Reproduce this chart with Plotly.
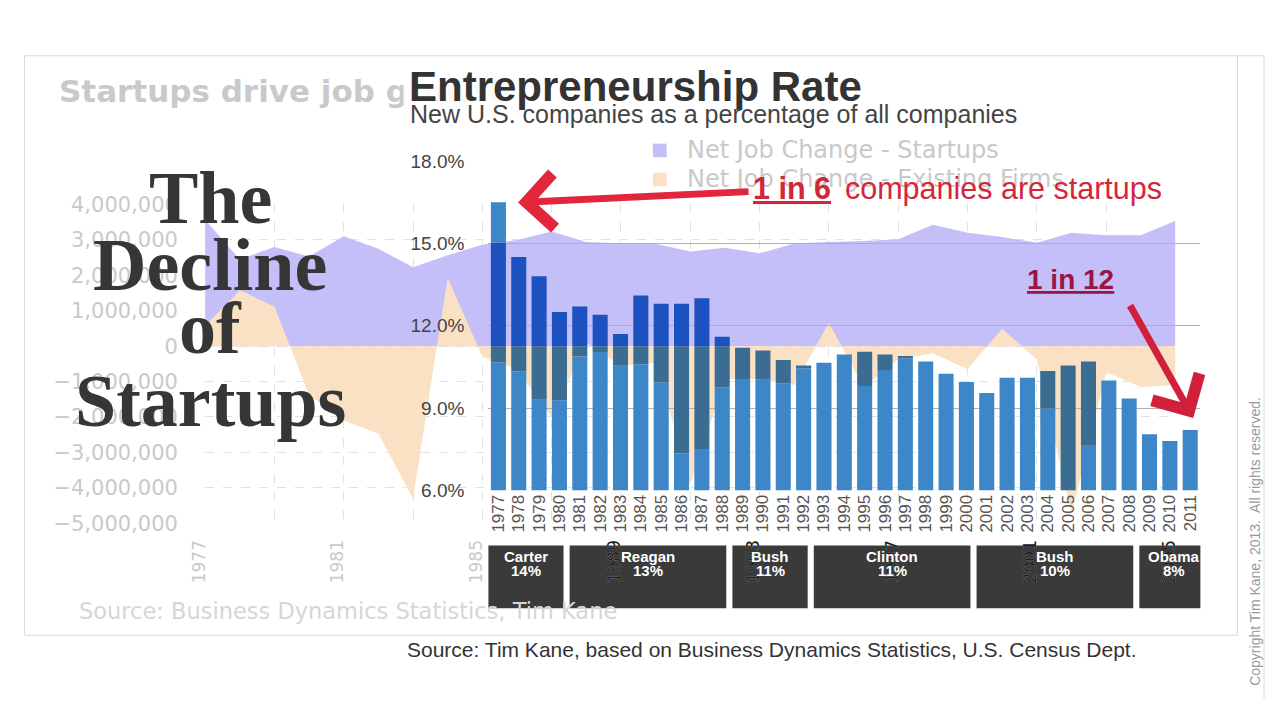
import numpy as np
import plotly.graph_objects as go

# ---------------- data ----------------
years = list(range(1977, 2012))
startup_rate = [16.5, 14.5, 13.8, 12.5, 12.7, 12.4, 11.7, 13.1, 12.8, 12.8,
                13.0, 11.6, 11.2, 11.1, 10.75, 10.55, 10.65, 10.95, 11.05, 10.95,
                10.9, 10.7, 10.25, 9.95, 9.55, 10.1, 10.1, 10.35, 10.55, 10.7,
                10.0, 9.35, 8.05, 7.8, 8.2]
rate_ticks = [6, 9, 12, 15, 18]

bg_years = list(range(1977, 2006))
net_jobs_startups = [3.57e6, 2.45e6, 2.8e6, 2.53e6, 3.1e6, 2.75e6, 2.23e6, 2.57e6, 2.86e6, 3.0e6,
                     3.24e6, 2.94e6, 2.9e6, 2.89e6, 2.67e6, 2.78e6, 2.62e6, 2.9e6, 2.94e6, 2.97e6,
                     3.02e6, 3.43e6, 3.2e6, 3.08e6, 2.92e6, 3.2e6, 3.13e6, 3.13e6, 3.54e6]
net_jobs_existing = [0.57e6, 1.58e6, 1.12e6, -1.38e6, -2.1e6, -2.47e6, -4.3e6, 1.93e6, -0.3e6, -0.65e6,
                     -2.0e6, 0.1e6, -0.56e6, -0.47e6, -3.9e6, -0.93e6, -0.93e6, -1.1e6, 0.66e6, -1.15e6,
                     -0.38e6, -0.2e6, -0.65e6, 0.49e6, -0.38e6, -4.75e6, -0.74e6, -1.15e6, -1.1e6]
bg_label_years = [1977, 1981, 1985]
bg_label_years_boxed = [1989, 1993, 1997, 2001, 2005]
jobs_ticks = [-5e6, -4e6, -3e6, -2e6, -1e6, 0, 1e6, 2e6, 3e6, 4e6]

presidents = ["Carter", "Reagan", "Bush", "Clinton", "Bush", "Obama"]
pres_avg = ["14%", "13%", "11%", "11%", "10%", "8%"]
pres_start = [1977, 1981, 1989, 1993, 2001, 2009]
pres_end = [1980, 1988, 1992, 2000, 2008, 2011]

# ---------------- layout geometry (screen pixels) ----------------
OFF = 8                      # page body margin
FW, FH = 1280 - 2 * OFF, 720 - 2 * OFF
def px(x):
    return (x - OFF) / FW
def py(y):
    return 1 - (y - OFF) / FH

BG_L, BG_R, BG_B, BG_T = 192, 1178, 529, 199          # faded job-change chart
BG_XR, BG_YR = [1977, 2005], [-5e6, 4e6]
BAR_L, BAR_R, BAR_B, BAR_T = 479.7, 1203.3, 495, 154   # entrepreneurship chart
BAR_XR, BAR_YR = [1976.5, 2011.5], [6, 18]

PURPLE = "#c4bff9"
ORANGE = "#fbe1c4"
BAR = "#3d86c7"
BAR_ON_PURPLE = "#1c52c0"   # bar seen through the purple wash
BAR_ON_ORANGE = "#3b6d92"   # bar seen through the orange wash
GHOST = "#c9c9c9"

# where the translucent job-change areas fall on each bar (picture overlay)
def bar_px(yr):
    return BAR_L + (yr - BAR_XR[0]) / (BAR_XR[1] - BAR_XR[0]) * (BAR_R - BAR_L)
def bg_year(xpx):
    return BG_XR[0] + (xpx - BG_L) / (BG_R - BG_L) * (BG_XR[1] - BG_XR[0])
def jobs_px(v):
    return BG_B - (v - BG_YR[0]) / (BG_YR[1] - BG_YR[0]) * (BG_B - BG_T)
def px_rate(p):
    return BAR_YR[0] + (BAR_B - p) / (BAR_B - BAR_T) * (BAR_YR[1] - BAR_YR[0])

seg = {k: ([], []) for k in ("lo", "orange", "purple", "hi")}
for yr, top in zip(years, startup_rate):
    clip = lambda a: min(max(a, BAR_YR[0]), top)
    g = bg_year(bar_px(yr))
    if g > BG_XR[1]:
        parts = {"lo": (BAR_YR[0], top), "orange": (top, top), "purple": (top, top), "hi": (top, top)}
    else:
        s = np.interp(g, bg_years, net_jobs_startups)
        e = np.interp(g, bg_years, net_jobs_existing)
        z_r, s_r, e_r = clip(px_rate(jobs_px(0))), clip(px_rate(jobs_px(s))), clip(px_rate(jobs_px(e)))
        if e < 0:
            parts = {"lo": (BAR_YR[0], e_r), "orange": (e_r, z_r), "purple": (z_r, s_r), "hi": (s_r, top)}
        else:
            parts = {"lo": (BAR_YR[0], z_r), "orange": (z_r, e_r), "purple": (e_r, s_r), "hi": (s_r, top)}
    for k, (a, b) in parts.items():
        seg[k][0].append(a)
        seg[k][1].append(max(b - a, 0))

fig = go.Figure()

# faded background chart : net job change
fig.add_trace(go.Scatter(x=bg_years, y=net_jobs_startups, fill="tozeroy", mode="none",
                         fillcolor=PURPLE, xaxis="x", yaxis="y", hoverinfo="skip",
                         name="Net Job Change - Startups"))
fig.add_trace(go.Scatter(x=bg_years, y=net_jobs_existing, fill="tozeroy", mode="none",
                         fillcolor=ORANGE, xaxis="x", yaxis="y", hoverinfo="skip",
                         name="Net Job Change - Existing Firms"))
fig.add_trace(go.Scatter(x=[], y=[], xaxis="x3", yaxis="y", hoverinfo="skip", mode="none"))

# entrepreneurship-rate bars (split where the washes overlay them)
for k, col in (("lo", BAR), ("orange", BAR_ON_ORANGE), ("purple", BAR_ON_PURPLE), ("hi", BAR)):
    fig.add_trace(go.Bar(x=years, y=seg[k][1], base=seg[k][0], xaxis="x2", yaxis="y2",
                         width=0.74, marker=dict(color=col, line=dict(width=0)),
                         hoverinfo="skip", name="Entrepreneurship Rate"))

annotations = []

def note(text, x, y, size, color, family="Liberation Sans", xanchor="left", yanchor="middle",
         bold=False, angle=0, bg=None, under=False, pad=1):
    f = dict(size=size, color=color, family=family)
    if bold:
        f["weight"] = "bold"
    if under:
        f["lineposition"] = "under"
    a = dict(text=text, x=px(x), y=py(y), xref="paper", yref="paper", showarrow=False,
             xanchor=xanchor, yanchor=yanchor, font=f, textangle=angle, borderpad=pad)
    if bg:
        a["bgcolor"] = bg
    annotations.append(a)

# ghost background chart title, legend and source
note("Startups drive job growth", 42, 81, 31, GHOST, family="DejaVu Sans", bold=True)
note("Net Job Change - Startups", 680, 143, 24, GHOST, family="DejaVu Sans")
note("Net Job Change - Existing Firms", 680, 173, 24, GHOST, family="DejaVu Sans")
note("Source: Business Dynamics Statistics, Tim Kane", 62, 620, 22.5, "#d6d6d6", family="DejaVu Sans")

# main titles
note("Entrepreneurship Rate", 393, 77, 42, "#333333", bold=True, bg="rgba(255,255,255,0.88)", pad=5)
note("New U.S. companies as a percentage of all companies", 398, 105, 25, "#444444")

# red callouts
note("1 in 6", 747, 182, 30.5, "#d3263a", bold=True, under=True)
note("companies are startups", 840, 182, 30.5, "#d3263a")
note("1 in 12", 1025, 277, 28, "#9c1446", bold=True, under=True)

annotations.append(dict(x=px(510), y=py(197), xref="paper", yref="paper", text="",
                        showarrow=True, ax=232, ay=-11, arrowhead=4, arrowsize=1.5,
                        arrowwidth=7, arrowcolor="#e2263c"))
annotations.append(dict(x=px(1196), y=py(420), xref="paper", yref="paper", text="",
                        showarrow=True, ax=-64, ay=-114, arrowhead=4, arrowsize=1.5,
                        arrowwidth=7, arrowcolor="#d21f3c"))

# big serif title
for word, yc in zip(["The", "Decline", "of", "Startups"], [192, 262, 327, 402]):
    note(word, 197, yc, 74, "#363636", family="Liberation Serif", xanchor="center", bold=True)

# source and copyright
note("Source: Tim Kane, based on Business Dynamics Statistics, U.S. Census Dept.", 395, 660, 21, "#333333")
note("Copyright Tim Kane, 2013.  All rights reserved.", 1258, 548, 14, "#9a9a9a",
     xanchor="center", angle=-90)

# president boxes
shapes = []
n_pres = len(presidents)
for i, (name, avg, s, e) in enumerate(zip(presidents, pres_avg, pres_start, pres_end)):
    x0 = s - 0.5
    x1 = e + 0.2 if i < n_pres - 1 else BAR_XR[1] + 0.4
    shapes.append(dict(type="rect", xref="x2", yref="paper", x0=x0, x1=x1,
                       y0=py(617), y1=py(552), fillcolor="#3a3a3a", line=dict(width=0),
                       layer="below"))
    for txt, yy in ((name, 563), (avg, 578)):
        annotations.append(dict(text=txt, x=(x0 + x1) / 2, y=py(yy), xref="x2", yref="paper",
                                showarrow=False, xanchor="center", yanchor="middle",
                                font=dict(size=15, color="white", family="Liberation Sans",
                                          weight="bold")))

# legend squares of the faded chart
shapes.append(dict(type="rect", xref="paper", yref="paper", x0=px(647), x1=px(661),
                   y0=py(150), y1=py(136), fillcolor=PURPLE, line=dict(width=0), layer="above"))
shapes.append(dict(type="rect", xref="paper", yref="paper", x0=px(647), x1=px(661),
                   y0=py(180), y1=py(166), fillcolor=ORANGE, line=dict(width=0), layer="above"))

# slide frame
shapes.append(dict(type="rect", xref="paper", yref="paper", x0=px(8.5), x1=px(1241),
                   y0=py(645), y1=py(45), line=dict(color="#dadada", width=1), layer="below"))
shapes.append(dict(type="line", xref="paper", yref="paper", x0=px(1241), x1=px(1268),
                   y0=py(45), y1=py(45), line=dict(color="#dadada", width=1), layer="below"))
shapes.append(dict(type="line", xref="paper", yref="paper", x0=px(1268), x1=px(1268),
                   y0=py(45), y1=py(711), line=dict(color="#dadada", width=1), layer="below"))

fig.update_layout(
    width=FW, height=FH, margin=dict(l=0, r=0, t=0, b=0),
    paper_bgcolor="white", plot_bgcolor="rgba(0,0,0,0)", showlegend=False,
    barmode="overlay", annotations=annotations, shapes=shapes,
    xaxis=dict(domain=[px(BG_L), px(BG_R)], range=BG_XR, anchor="y",
               tickmode="array", tickvals=bg_label_years + bg_label_years_boxed,
               tickangle=-90, tickfont=dict(family="DejaVu Sans", size=17, color=GHOST),
               ticklabelshift=-6,
               showgrid=True, gridcolor="#e2e2e2", griddash="dash", gridwidth=1,
               minor=dict(tick0=1977, dtick=2, showgrid=True, gridcolor="#e2e2e2", griddash="dash"),
               zeroline=False, showline=False, ticks="outside", ticklen=9,
               tickcolor="rgba(0,0,0,0)"),
    xaxis3=dict(overlaying="x", range=BG_XR, anchor="y", side="bottom",
                tickmode="array", tickvals=bg_label_years_boxed, tickangle=-90,
                tickfont=dict(family="DejaVu Sans", size=17, color="#1e1e1e"),
                ticklabelshift=-6,
                showgrid=False, zeroline=False, showline=False, ticks="outside", ticklen=9,
                tickcolor="rgba(0,0,0,0)"),
    yaxis=dict(domain=[py(BG_B), py(BG_T)], range=BG_YR, anchor="x",
               tickmode="array", tickvals=jobs_ticks, tickformat=",",
               tickfont=dict(family="DejaVu Sans", size=21, color=GHOST),
               showgrid=True, gridcolor="#e2e2e2", griddash="dash",
               zeroline=False, showline=False, ticks="outside", ticklen=22,
               tickcolor="rgba(0,0,0,0)"),
    xaxis2=dict(domain=[px(BAR_L), px(BAR_R)], range=BAR_XR, anchor="y2",
                tickmode="array", tickvals=years, tickangle=-90,
                tickfont=dict(family="Liberation Sans", size=17, color="#555555"),
                showgrid=False, zeroline=False, showline=False, ticks=""),
    yaxis2=dict(domain=[py(BAR_B), py(BAR_T)], range=BAR_YR, anchor="x2",
                tickmode="array", tickvals=rate_ticks,
                ticktext=[f"{v:.1f}%" for v in rate_ticks],
                tickfont=dict(family="Liberation Sans", size=19, color="#444444"),
                showgrid=True, gridcolor="#b0b0b0", gridwidth=1,
                zeroline=False, showline=False, ticks="outside", ticklen=19,
                tickcolor="rgba(0,0,0,0)"),
)

fig.write_html("out.html", config={"displayModeBar": False})
